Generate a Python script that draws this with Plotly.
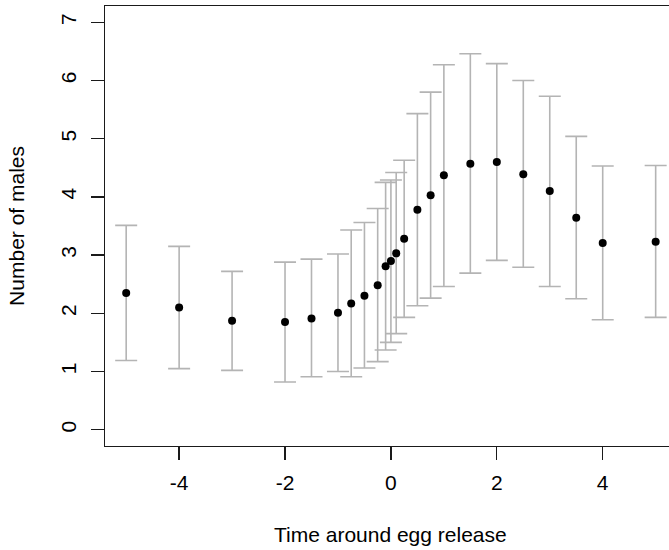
import plotly.graph_objects as go

time_pts = [-5, -4, -3, -2, -1.5, -1, -0.75, -0.5, -0.25, -0.1, 0, 0.1, 0.25,
            0.5, 0.75, 1, 1.5, 2, 2.5, 3, 3.5, 4, 5]
mean_males = [2.35, 2.10, 1.87, 1.85, 1.91, 2.01, 2.17, 2.30, 2.48, 2.81, 2.90, 3.03, 3.28,
              3.78, 4.03, 4.37, 4.57, 4.60, 4.39, 4.10, 3.64, 3.21, 3.23]
upper_males = [3.51, 3.15, 2.72, 2.88, 2.93, 3.02, 3.43, 3.56, 3.80, 4.25, 4.29, 4.42, 4.63,
               5.43, 5.80, 6.27, 6.46, 6.29, 6.00, 5.73, 5.04, 4.53, 4.54]
lower_males = [1.19, 1.05, 1.02, 0.82, 0.91, 1.00, 0.91, 1.06, 1.17, 1.37, 1.50, 1.65, 1.93,
               2.13, 2.26, 2.46, 2.69, 2.91, 2.79, 2.46, 2.25, 1.89, 1.93]
x_ticks = [-4, -2, 0, 2, 4]
y_ticks = [0, 1, 2, 3, 4, 5, 6, 7]

err_plus = [u - m for u, m in zip(upper_males, mean_males)]
err_minus = [m - l for m, l in zip(mean_males, lower_males)]

FONT = "Liberation Sans, Arial, Helvetica, sans-serif"
AX = "#1a1a1a"

fig = go.Figure()
fig.add_trace(go.Scatter(
    x=time_pts, y=mean_males, mode="markers",
    marker=dict(color="black", size=8, line=dict(width=0)),
    error_y=dict(type="data", symmetric=False, array=err_plus, arrayminus=err_minus,
                 color="#B4B4B4", thickness=1.6, width=11),
    cliponaxis=False,
    showlegend=False, hoverinfo="skip",
))

fig.update_layout(
    width=669, height=550,
    margin=dict(l=105, r=0, t=6, b=104, autoexpand=False),
    paper_bgcolor="white", plot_bgcolor="white",
    font=dict(family=FONT, size=21, color="black"),
    xaxis=dict(range=[-5.4, 5.252], tickvals=x_ticks, ticktext=[str(v) for v in x_ticks],
               showgrid=False, zeroline=False, showline=True, mirror=True,
               linecolor=AX, linewidth=1.3, ticks="outside", ticklen=13,
               tickwidth=1.3, tickcolor=AX, ticklabelstandoff=4, automargin=False),
    yaxis=dict(range=[-0.28, 7.28], tickvals=y_ticks, ticktext=[str(v) for v in y_ticks],
               showgrid=False, zeroline=False, showline=True, mirror=False,
               linecolor=AX, linewidth=1.3, ticks="outside", ticklen=13,
               tickwidth=1.3, tickcolor=AX, tickangle=-90, ticklabelstandoff=6,
               automargin=False),
    annotations=[
        dict(text="Time around egg release", xref="x", yref="paper", x=0, y=-0.2,
             xanchor="center", yanchor="middle", showarrow=False,
             font=dict(family=FONT, size=21, color="black")),
        dict(text="Number of males", xref="paper", yref="paper", x=-0.158, y=0.5,
             xanchor="center", yanchor="middle", textangle=-90, showarrow=False,
             font=dict(family=FONT, size=21, color="black")),
    ],
)

fig.write_html("out.html",
               config={"displayModeBar": False, "staticPlot": True},
               post_script="document.body.style.margin='0';document.body.style.overflow='hidden';")
